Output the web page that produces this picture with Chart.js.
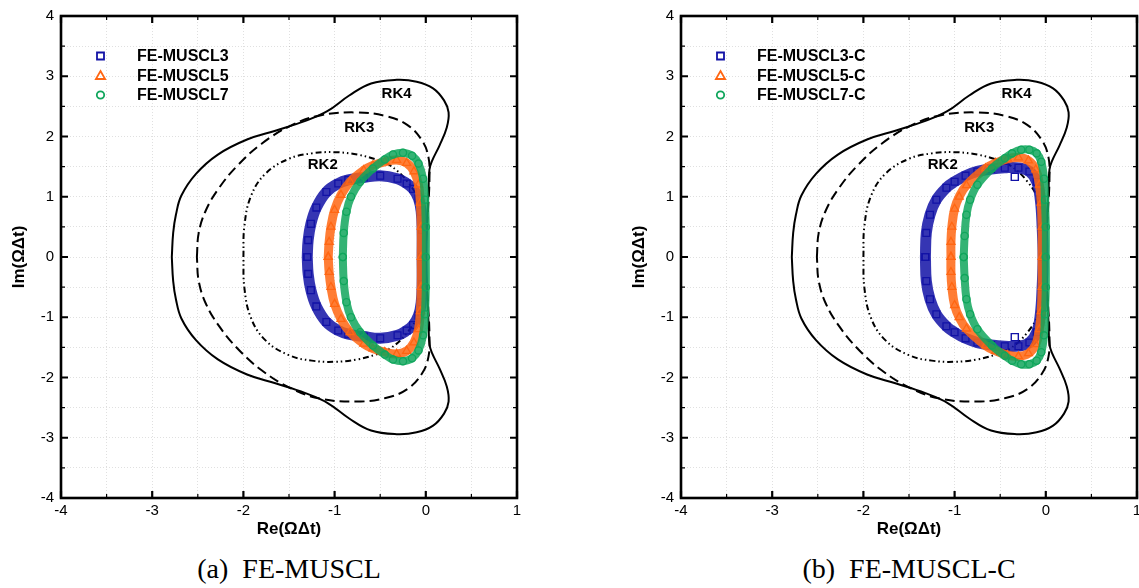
<!DOCTYPE html>
<html><head><meta charset="utf-8">
<script src="https://cdn.jsdelivr.net/npm/chart.js@4/dist/chart.umd.min.js"></script>
<style>
html,body{margin:0;padding:0;background:#fff;overflow:hidden;width:1139px;height:588px;}
.panel{position:absolute;top:0;width:570px;height:540px;}
.cap{position:absolute;top:553px;font-family:"Liberation Serif","Times New Roman",serif;font-size:28px;white-space:pre;transform:translateX(-50%);color:#000;line-height:32px;}
</style></head><body>
<div class="panel" style="left:0"><canvas id="c1" width="570" height="540"></canvas></div>
<div class="panel" style="left:620px"><canvas id="c2" width="570" height="540"></canvas></div>
<div class="cap" style="left:289px">(a)  FE-MUSCL</div>
<div class="cap" style="left:909px">(b)  FE-MUSCL-C</div>
<script>
// ---------- data ----------
const xRange = [-4, 1];
const yRange = [-4, 4];
const rkNames = ['RK2', 'RK3', 'RK4'];
const rkLabelPos = [[-1.13, 1.53], [-0.73, 2.15], [-0.32, 2.71]];

const rk2Curve = [[-2.0,0],[-1.99,0.5],[-1.92,1.0],[-1.76,1.38],[-1.5,1.63],[-1.25,1.72],[-1.0,1.74],[-0.75,1.7],[-0.55,1.62],[-0.4,1.53],[-0.2,1.25],[-0.07,0.9],[-0.01,0.4],[0,0],
  [-0.01,-0.4],[-0.07,-0.9],[-0.2,-1.25],[-0.4,-1.53],[-0.55,-1.62],[-0.75,-1.7],[-1.0,-1.74],[-1.25,-1.72],[-1.5,-1.63],[-1.76,-1.38],[-1.92,-1.0],[-1.99,-0.5],[-2.0,0]];
const rk3Curve = [[-2.51,0],[-2.49,0.4],[-2.41,0.78],[-2.27,1.14],[-2.07,1.51],[-1.8,1.88],[-1.48,2.18],[-1.16,2.35],[-0.76,2.4],[-0.44,2.34],[-0.2,2.19],[-0.04,1.93],[0.03,1.65],[0.04,1.3],[0.025,0.8],[0.005,0.35],[0,0],
  [0.005,-0.35],[0.025,-0.8],[0.04,-1.3],[0.03,-1.65],[-0.04,-1.93],[-0.2,-2.19],[-0.44,-2.34],[-0.76,-2.4],[-1.16,-2.35],[-1.48,-2.18],[-1.8,-1.88],[-2.07,-1.51],[-2.27,-1.14],[-2.41,-0.78],[-2.49,-0.4],[-2.51,0]];
const rk4Curve = [[-2.785,0],[-2.77,0.4],[-2.74,0.7],[-2.68,1.02],[-2.52,1.38],[-2.28,1.7],[-1.96,1.95],[-1.64,2.1],[-1.32,2.26],[-1.08,2.42],[-0.84,2.68],[-0.6,2.88],[-0.32,2.94],[-0.1,2.91],[0.08,2.8],[0.2,2.6],[0.25,2.4],[0.23,2.15],[0.15,1.85],[0.07,1.6],[0.04,1.45],[0.03,1.1],[0.015,0.6],[0,0],
  [0.015,-0.6],[0.03,-1.1],[0.04,-1.45],[0.07,-1.6],[0.15,-1.85],[0.23,-2.15],[0.25,-2.4],[0.2,-2.6],[0.08,-2.8],[-0.1,-2.91],[-0.32,-2.94],[-0.6,-2.88],[-0.84,-2.68],[-1.08,-2.42],[-1.32,-2.26],[-1.64,-2.1],[-1.96,-1.95],[-2.28,-1.7],[-2.52,-1.38],[-2.68,-1.02],[-2.74,-0.7],[-2.77,-0.4],[-2.785,0]];

// panel (a) FE-MUSCL
const namesA = ['FE-MUSCL3', 'FE-MUSCL5', 'FE-MUSCL7'];
const musclA3 = [[-1.3,0],[-1.29,0.28],[-1.26,0.55],[-1.2,0.82],[-1.09,1.08],[-0.96,1.22],[-0.85,1.28],[-0.68,1.32],[-0.5,1.35],[-0.31,1.3],[-0.21,1.22],[-0.14,1.13],[-0.08,0.97],[-0.05,0.75],[-0.04,0.45],[-0.04,0],
  [-0.04,-0.45],[-0.05,-0.75],[-0.08,-0.97],[-0.14,-1.13],[-0.21,-1.22],[-0.31,-1.3],[-0.5,-1.35],[-0.68,-1.32],[-0.85,-1.28],[-0.96,-1.22],[-1.09,-1.08],[-1.2,-0.82],[-1.26,-0.55],[-1.29,-0.28],[-1.3,0]];
const musclA5 = [[-1.07,0],[-1.06,0.25],[-1.04,0.5],[-1.0,0.78],[-0.93,1.03],[-0.83,1.25],[-0.68,1.44],[-0.58,1.52],[-0.45,1.58],[-0.32,1.61],[-0.21,1.56],[-0.13,1.42],[-0.08,1.2],[-0.06,0.9],[-0.05,0.5],[-0.05,0],
  [-0.05,-0.5],[-0.06,-0.9],[-0.08,-1.2],[-0.13,-1.42],[-0.21,-1.56],[-0.32,-1.61],[-0.45,-1.58],[-0.58,-1.52],[-0.68,-1.44],[-0.83,-1.25],[-0.93,-1.03],[-1.0,-0.78],[-1.04,-0.5],[-1.06,-0.25],[-1.07,0]];
const musclA7 = [[-0.91,0],[-0.9,0.4],[-0.87,0.75],[-0.82,1.0],[-0.72,1.25],[-0.58,1.47],[-0.45,1.62],[-0.36,1.7],[-0.25,1.73],[-0.15,1.68],[-0.08,1.55],[-0.03,1.3],[-0.01,0.95],[0,0.5],[0,0],
  [0,-0.5],[-0.01,-0.95],[-0.03,-1.3],[-0.08,-1.55],[-0.15,-1.68],[-0.25,-1.73],[-0.36,-1.7],[-0.45,-1.62],[-0.58,-1.47],[-0.72,-1.25],[-0.82,-1.0],[-0.87,-0.75],[-0.9,-0.4],[-0.91,0]];

// panel (b) FE-MUSCL-C
const namesB = ['FE-MUSCL3-C', 'FE-MUSCL5-C', 'FE-MUSCL7-C'];
const musclC3 = [[-1.32,0],[-1.31,0.4],[-1.27,0.7],[-1.2,0.95],[-1.09,1.15],[-1.0,1.25],[-0.88,1.35],[-0.75,1.42],[-0.6,1.46],[-0.45,1.48],[-0.3,1.48],[-0.18,1.42],[-0.1,1.25],[-0.06,0.95],[-0.04,0.5],[-0.03,0],
  [-0.04,-0.5],[-0.06,-0.95],[-0.1,-1.25],[-0.18,-1.42],[-0.3,-1.48],[-0.45,-1.48],[-0.6,-1.46],[-0.75,-1.42],[-0.88,-1.35],[-1.0,-1.25],[-1.09,-1.15],[-1.2,-0.95],[-1.27,-0.7],[-1.31,-0.4],[-1.32,0]];
const musclC3Extra = [[-0.34,1.33],[-0.34,-1.33]];
const musclC5 = [[-1.04,0],[-1.04,0.25],[-1.03,0.5],[-1.0,0.8],[-0.95,1.0],[-0.87,1.19],[-0.66,1.47],[-0.55,1.56],[-0.42,1.63],[-0.3,1.65],[-0.19,1.6],[-0.11,1.45],[-0.07,1.2],[-0.05,0.9],[-0.04,0.5],[-0.04,0],
  [-0.04,-0.5],[-0.05,-0.9],[-0.07,-1.2],[-0.11,-1.45],[-0.19,-1.6],[-0.3,-1.65],[-0.42,-1.63],[-0.55,-1.56],[-0.66,-1.47],[-0.87,-1.19],[-0.95,-1.0],[-1.0,-0.8],[-1.03,-0.5],[-1.04,-0.25],[-1.04,0]];
const musclC7 = [[-0.9,0],[-0.89,0.35],[-0.87,0.7],[-0.83,0.95],[-0.75,1.2],[-0.59,1.47],[-0.45,1.64],[-0.37,1.72],[-0.27,1.78],[-0.18,1.78],[-0.1,1.72],[-0.05,1.58],[-0.02,1.3],[-0.01,0.95],[0,0.5],[0,0],
  [0,-0.5],[-0.01,-0.95],[-0.02,-1.3],[-0.05,-1.58],[-0.1,-1.72],[-0.18,-1.78],[-0.27,-1.78],[-0.37,-1.72],[-0.45,-1.64],[-0.59,-1.47],[-0.75,-1.2],[-0.83,-0.95],[-0.87,-0.7],[-0.89,-0.35],[-0.9,0]];

// ---------- styling ----------
const COLORS = ['#1212a6', '#ff6612', '#10a65c'];
const BANDS = ['rgba(18,18,166,0.85)', 'rgba(255,102,18,0.85)', 'rgba(16,166,92,0.85)'];
const STYLES = ['rect', 'triangle', 'circle'];
const RADII = [4.8, 4.6, 3.6];
const WIDTHS = [11, 9, 8];
const SANS = '"Liberation Sans", Arial, Helvetica, sans-serif';

const toXY = arr => arr.map(p => ({x: p[0], y: p[1]}));

function rkDataset(curve, dash) {
  return {data: toXY(curve), showLine: true, borderColor: '#000', borderWidth: 2, borderDash: dash,
    pointRadius: 0, tension: 0.4, fill: false, order: 10};
}
function bandDataset(curve, i) {
  return {data: toXY(curve), showLine: true, borderColor: BANDS[i], borderWidth: WIDTHS[i],
    borderJoinStyle: 'round', borderCapStyle: 'round', tension: 0.4, fill: false,
    pointStyle: STYLES[i], pointRadius: RADII[i], pointBorderColor: COLORS[i], pointBorderWidth: 1.3,
    pointBackgroundColor: 'rgba(255,255,255,0)', order: 3 - i};
}

function drawMarker(ctx, style, cx, cy, color) {
  ctx.strokeStyle = color; ctx.lineWidth = 1.8;
  ctx.beginPath();
  if (style === 'rect') ctx.rect(cx - 3.5, cy - 3.5, 7, 7);
  else if (style === 'triangle') { ctx.moveTo(cx, cy - 4.5); ctx.lineTo(cx + 4.6, cy + 3.5); ctx.lineTo(cx - 4.6, cy + 3.5); ctx.closePath(); }
  else ctx.arc(cx, cy, 3.7, 0, Math.PI * 2);
  ctx.stroke();
}

const decorPlugin = {
  id: 'decor',
  afterDatasetsDraw(chart) {
    const {ctx, chartArea: a, scales: {x, y}} = chart;
    const names = chart.options.plugins.decor.names;
    ctx.save();
    ctx.strokeStyle = '#000';
    // inward ticks on all four sides
    x.ticks.forEach(t => {
      const px = x.getPixelForValue(t.value);
      const major = Number.isInteger(t.value);
      const len = major ? 7 : 4;
      ctx.lineWidth = major ? 2.2 : 1.2;
      ctx.beginPath();
      ctx.moveTo(px, a.top); ctx.lineTo(px, a.top + len);
      ctx.moveTo(px, a.bottom); ctx.lineTo(px, a.bottom - len);
      ctx.stroke();
    });
    y.ticks.forEach(t => {
      const py = y.getPixelForValue(t.value);
      const major = Number.isInteger(t.value);
      const len = major ? 7 : 4;
      ctx.lineWidth = major ? 2.2 : 1.2;
      ctx.beginPath();
      ctx.moveTo(a.left, py); ctx.lineTo(a.left + len, py);
      ctx.moveTo(a.right, py); ctx.lineTo(a.right - len, py);
      ctx.stroke();
    });
    ctx.lineWidth = 2.6;
    ctx.strokeRect(a.left, a.top, a.right - a.left, a.bottom - a.top);
    // RK labels
    ctx.fillStyle = '#000';
    ctx.font = 'bold 15px ' + SANS;
    ctx.textAlign = 'center'; ctx.textBaseline = 'middle';
    rkNames.forEach((n, i) => {
      ctx.fillText(n, x.getPixelForValue(rkLabelPos[i][0]), y.getPixelForValue(rkLabelPos[i][1]));
    });
    // legend
    ctx.font = 'bold 16px ' + SANS;
    ctx.textAlign = 'left';
    names.forEach((n, i) => {
      const ry = a.top + 40 + i * 19.5;
      drawMarker(ctx, STYLES[i], a.left + 39.5, ry, COLORS[i]);
      ctx.fillStyle = '#000';
      ctx.fillText(n, a.left + 76, ry + 1);
    });
    ctx.restore();
  }
};

function makePanel(id, series, names, extra) {
  const datasets = [
    rkDataset(rk4Curve, []),
    rkDataset(rk3Curve, [10, 5]),
    rkDataset(rk2Curve, [6, 3, 1.5, 3, 1.5, 3])
  ];
  series.forEach((s, i) => datasets.push(bandDataset(s, i)));
  if (extra) datasets.push({data: toXY(extra), showLine: false, pointStyle: 'rect', pointRadius: 5,
    pointBorderColor: COLORS[0], pointBorderWidth: 1.4, pointBackgroundColor: 'rgba(255,255,255,0)', order: 0});
  const tickFont = {family: SANS, size: 15};
  const titleFont = {family: SANS, size: 17, weight: 'bold'};
  return new Chart(document.getElementById(id), {
    type: 'scatter',
    data: {datasets},
    plugins: [decorPlugin],
    options: {
      responsive: false, animation: false, events: [],
      layout: {padding: {top: 13, right: 53, left: 0, bottom: 0}},
      plugins: {legend: {display: false}, tooltip: {enabled: false}, decor: {names}},
      scales: {
        x: {type: 'linear', min: xRange[0], max: xRange[1],
          ticks: {stepSize: 0.5, autoSkip: false, maxRotation: 0, padding: 4, color: '#000', font: tickFont,
            callback: v => Number.isInteger(v) ? String(v) : ''},
          grid: {color: 'rgba(0,0,0,0.12)', lineWidth: 1, drawTicks: false},
          border: {display: false, dash: [1, 2]},
          title: {display: true, text: 'Re(ΩΔt)', color: '#000', font: titleFont, padding: {top: 0, bottom: 0}},
          afterFit: s => { s.height = 42; }
        },
        y: {type: 'linear', min: yRange[0], max: yRange[1],
          ticks: {stepSize: 0.5, autoSkip: false, padding: 7, color: '#000', font: tickFont,
            callback: v => Number.isInteger(v) ? String(v) : ''},
          grid: {color: 'rgba(0,0,0,0.12)', lineWidth: 1, drawTicks: false},
          border: {display: false, dash: [1, 2]},
          title: {display: true, text: 'Im(ΩΔt)', color: '#000', font: titleFont, padding: {top: 9, bottom: 0}},
          afterFit: s => { s.width = 61; }
        }
      }
    }
  });
}

makePanel('c1', [musclA3, musclA5, musclA7], namesA, null);
makePanel('c2', [musclC3, musclC5, musclC7], namesB, musclC3Extra);
</script>
</body></html>
